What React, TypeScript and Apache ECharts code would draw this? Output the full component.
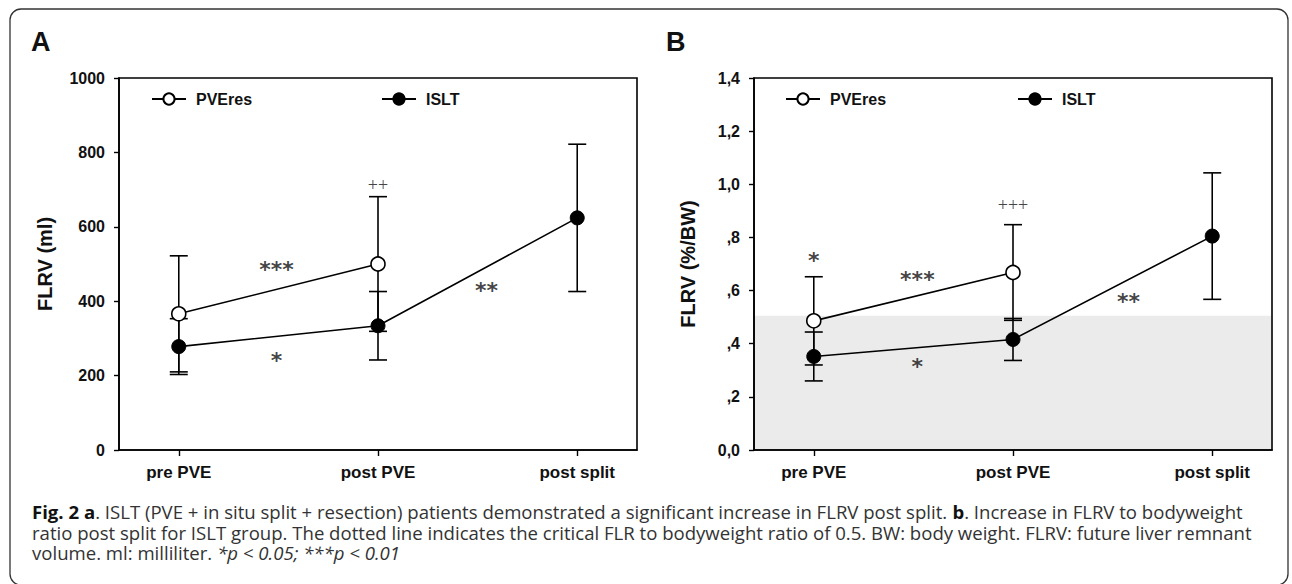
import React, { useEffect, useRef } from "react";
import * as echarts from "echarts";

// ---------- data ----------
const categories = ["pre PVE", "post PVE", "post split"];
const xPositions = [0, 1, 2];

// Panel A: FLRV (ml)
const flrvPVEresMl = [366, 500];
const flrvPVEresMlErr = [156, 181];
const flrvISLTMl = [278, 334, 624];
const flrvISLTMlErr = [75, 92, 198];
const yTicksA = ["0", "200", "400", "600", "800", "1000"];

// Panel B: FLRV (%/BW)
const flrvPVEresBw = [0.486, 0.668];
const flrvPVEresBwErr = [0.166, 0.18];
const flrvISLTBw = [0.352, 0.416, 0.805];
const flrvISLTBwErr = [0.092, 0.079, 0.238];
const yTicksB = ["0,0", ",2", ",4", ",6", ",8", "1,0", "1,2", "1,4"];
const criticalRatio = 0.505;

// significance annotations [x, y]
const annotA = [
  [0.49, 486],
  [0.49, 240],
  [1.545, 428],
  [1, 712],
];
const annotALabels = ["***", "*", "**", "++"];
const annotB = [
  [0, 0.715],
  [1, 0.921],
  [0.52, 0.642],
  [0.52, 0.316],
  [1.58, 0.56],
];
const annotBLabels = ["*", "+++", "***", "*", "**"];

const seriesNames = ["PVEres", "ISLT"];

// ---------- helpers ----------
const FONT = "Liberation Sans, Arial, sans-serif";

function measure(text: string, font: string): number {
  const c = document.createElement("canvas").getContext("2d");
  if (!c) return text.length * 8;
  c.font = font;
  return c.measureText(text).width;
}

function errorData(vals: number[], errs: number[]) {
  return vals.map((v, i) => [xPositions[i], v - errs[i], v + errs[i]]);
}

function errorRender(params: any, api: any) {
  const x = api.value(0);
  const lo = api.coord([x, api.value(1)]);
  const hi = api.coord([x, api.value(2)]);
  const hw = 9;
  const st = { stroke: "#000", lineWidth: 1.6 };
  return {
    type: "group",
    children: [
      { type: "line", shape: { x1: lo[0], y1: lo[1], x2: hi[0], y2: hi[1] }, style: st },
      { type: "line", shape: { x1: lo[0] - hw, y1: lo[1], x2: lo[0] + hw, y2: lo[1] }, style: st },
      { type: "line", shape: { x1: hi[0] - hw, y1: hi[1], x2: hi[0] + hw, y2: hi[1] }, style: st },
    ],
  };
}

function annotSeries(name: string, idx: number, data: number[][], labels: string[]) {
  return {
    type: "scatter",
    name,
    xAxisIndex: idx,
    yAxisIndex: idx,
    z: 5,
    silent: true,
    symbol: "circle",
    symbolSize: 1,
    itemStyle: { color: "rgba(0,0,0,0)" },
    data: data.map((d, i) => {
      const isPlus = labels[i].indexOf("+") >= 0;
      return {
        value: d,
        label: {
          show: true,
          position: "inside",
          formatter: labels[i],
          color: "#111",
          fontFamily: isPlus ? "Liberation Serif, Times New Roman, serif" : "DejaVu Sans, sans-serif",
          fontWeight: isPlus ? "normal" : "bold",
          fontSize: isPlus ? 18 : 22,
        },
      };
    }),
  };
}

function shadeRender(params: any, api: any) {
  const a = api.coord([-0.3, 0]);
  const b = api.coord([2.3, api.value(0)]);
  return {
    type: "rect",
    shape: { x: a[0] + 1, y: b[1], width: b[0] - a[0] - 2, height: a[1] - b[1] - 1 },
    style: { fill: "#ebebeb" },
  };
}

function xAxis(gridIndex: number) {
  return {
    type: "value",
    gridIndex,
    min: -0.3,
    max: 2.3,
    splitLine: { show: false },
    axisLine: { onZero: false, lineStyle: { color: "#000", width: 1.6 } },
    axisTick: { show: true, customValues: xPositions, length: 6, lineStyle: { color: "#000", width: 1.4 } },
    axisLabel: {
      customValues: xPositions,
      formatter: (v: number) => categories[Math.round(v)],
      color: "#111",
      fontFamily: FONT,
      fontWeight: "bold",
      fontSize: 17,
      margin: 14,
    },
  };
}

function yAxis(gridIndex: number, max: number, interval: number, ticks: string[], name: string, nameGap: number) {
  return {
    type: "value",
    gridIndex,
    min: 0,
    max,
    interval,
    name,
    nameLocation: "middle",
    nameGap,
    nameTextStyle: { color: "#111", fontFamily: FONT, fontWeight: "bold", fontSize: 20 },
    splitLine: { show: false },
    axisLine: { show: true, onZero: false, lineStyle: { color: "#000", width: 1.6 } },
    axisTick: { show: true, length: 5, lineStyle: { color: "#000", width: 1.4 } },
    axisLabel: {
      formatter: (v: number) => ticks[Math.round(v / interval)],
      color: "#111",
      fontFamily: FONT,
      fontWeight: "bold",
      fontSize: 16,
      margin: 14,
    },
  };
}

function lineSeries(name: string, data: number[], idx: number, open: boolean) {
  return {
    name,
    type: "line",
    xAxisIndex: idx,
    yAxisIndex: idx,
    data: data.map((v, i) => [xPositions[i], v]),
    symbol: "circle",
    symbolSize: 14,
    z: 4,
    lineStyle: { color: "#000", width: 1.6 },
    itemStyle: open
      ? { color: "#fff", borderColor: "#000", borderWidth: 1.6 }
      : { color: "#000", borderColor: "#000", borderWidth: 1 },
  };
}

function legend(name: string, left: number) {
  return {
    data: [name],
    left,
    top: 86,
    orient: "horizontal",
    itemWidth: 34,
    itemHeight: 14,
    selectedMode: false,
    textStyle: {
      color: "#111",
      fontFamily: FONT,
      fontWeight: "bold",
      fontSize: 16,
      padding: [0, 0, 0, 5],
    },
  };
}

export default function App() {
  const ref = useRef<HTMLDivElement>(null);
  useEffect(() => {
    if (!ref.current) return;
    const chart = echarts.init(ref.current, null, { renderer: "svg" });

    const capSize = 18;
    const capFamily = "Open Sans, Noto Sans, sans-serif";
    const fNorm = `${capSize}px ${capFamily}`;
    const fBold = `bold ${capSize}px ${capFamily}`;

    const line1Parts = [
      ["Fig. 2 a", fBold],
      [". ISLT (PVE + in situ split + resection) patients demonstrated a significant increase in FLRV post split. ", fNorm],
      ["b", fBold],
      [". Increase in FLRV to bodyweight", fNorm],
    ];
    const w1 = line1Parts.reduce((s, p) => s + measure(p[0], p[1]), 0);
    const scale = 1211 / w1;

    const rich = {
      b: { fontFamily: capFamily, fontSize: capSize, fontWeight: "bold", fill: "#111", color: "#111" },
      n: { fontFamily: capFamily, fontSize: capSize, fill: "#333", color: "#333" },
      i: { fontFamily: capFamily, fontSize: capSize, fontStyle: "italic", fill: "#333", color: "#333" },
    };
    const capText = (t: string, y: number) => ({
      type: "text",
      x: 0,
      y,
      style: {
        text: t,
        rich,
        font: fNorm,
        fill: "#333",
        verticalAlign: "middle",
      },
    });

    const option: any = {
      animation: false,
      backgroundColor: "#fff",
      grid: [
        { left: 119, top: 78, width: 518, height: 372, show: true, borderColor: "#000", borderWidth: 1.6, backgroundColor: "transparent" },
        { left: 754, top: 78, width: 518, height: 372, show: true, borderColor: "#000", borderWidth: 1.6, backgroundColor: "transparent" },
      ],
      legend: [
        legend(seriesNames[0], 146),
        legend(seriesNames[1], 376),
        legend(seriesNames[0], 780),
        legend(seriesNames[1], 1012),
      ],
      xAxis: [xAxis(0), xAxis(1)],
      yAxis: [
        yAxis(0, 1000, 200, yTicksA, "FLRV (ml)", 64),
        yAxis(1, 1.4, 0.2, yTicksB, "FLRV (%/BW)", 56),
      ],
      series: [
        {
          type: "custom",
          name: "critical",
          xAxisIndex: 1,
          yAxisIndex: 1,
          z: 0,
          silent: true,
          data: [[criticalRatio]],
          renderItem: shadeRender,
        },
        {
          type: "custom",
          name: "errA1",
          xAxisIndex: 0,
          yAxisIndex: 0,
          z: 2,
          data: errorData(flrvPVEresMl, flrvPVEresMlErr),
          renderItem: errorRender,
        },
        {
          type: "custom",
          name: "errA2",
          xAxisIndex: 0,
          yAxisIndex: 0,
          z: 2,
          data: errorData(flrvISLTMl, flrvISLTMlErr),
          renderItem: errorRender,
        },
        {
          type: "custom",
          name: "errB1",
          xAxisIndex: 1,
          yAxisIndex: 1,
          z: 2,
          data: errorData(flrvPVEresBw, flrvPVEresBwErr),
          renderItem: errorRender,
        },
        {
          type: "custom",
          name: "errB2",
          xAxisIndex: 1,
          yAxisIndex: 1,
          z: 2,
          data: errorData(flrvISLTBw, flrvISLTBwErr),
          renderItem: errorRender,
        },
        lineSeries(seriesNames[0], flrvPVEresMl, 0, true),
        lineSeries(seriesNames[1], flrvISLTMl, 0, false),
        lineSeries(seriesNames[0], flrvPVEresBw, 1, true),
        lineSeries(seriesNames[1], flrvISLTBw, 1, false),
        annotSeries("annotA", 0, annotA, annotALabels),
        annotSeries("annotB", 1, annotB, annotBLabels),
      ],
      graphic: [
        {
          type: "rect",
          shape: { x: 10, y: 9, width: 1278, height: 576, r: 11 },
          style: { fill: "none", stroke: "#333", lineWidth: 1.3 },
          silent: true,
        },
        {
          type: "text",
          x: 31,
          y: 42,
          style: { text: "A", font: `bold 27px ${FONT}`, fill: "#111", verticalAlign: "middle" },
        },
        {
          type: "text",
          x: 666,
          y: 42,
          style: { text: "B", font: `bold 27px ${FONT}`, fill: "#111", verticalAlign: "middle" },
        },
        {
          type: "group",
          x: 32,
          y: 0,
          scaleX: scale,
          children: [
            capText(
              "{b|Fig. 2 a}{n|. ISLT (PVE + in situ split + resection) patients demonstrated a significant increase in FLRV post split. }{b|b}{n|. Increase in FLRV to bodyweight}",
              512
            ),
            capText(
              "{n|ratio post split for ISLT group. The dotted line indicates the critical FLR to bodyweight ratio of 0.5. BW: body weight. FLRV: future liver remnant}",
              533
            ),
            capText("{n|volume. ml: milliliter. }{i|*p < 0.05; ***p < 0.01}", 553),
          ],
        },
      ],
    };
    chart.setOption(option);
    return () => chart.dispose();
  }, []);
  return <div ref={ref} style={{ position: "absolute", left: 0, top: 0, width: 1292, height: 584 }} />;
}
